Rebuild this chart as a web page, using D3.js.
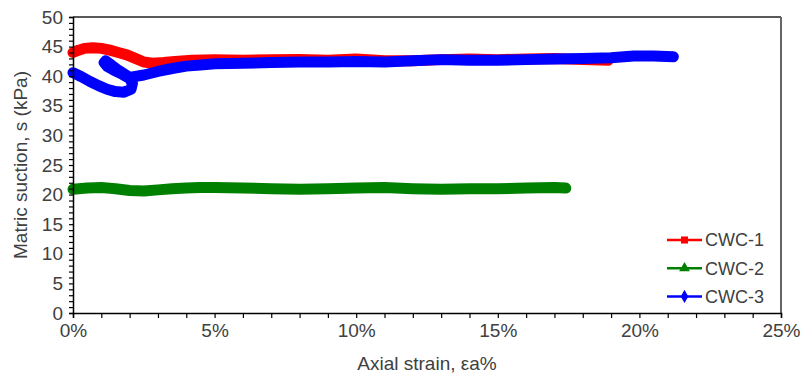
<!DOCTYPE html>
<html>
<head>
<meta charset="utf-8">
<script src="https://cdn.jsdelivr.net/npm/d3@7"></script>
<style>
  html, body { margin: 0; padding: 0; background: #fff; }
  svg { display: block; font-family: "Liberation Sans", Arial, sans-serif; }
</style>
</head>
<body>
<svg id="chart" width="805" height="377"></svg>
<script>
// Matric suction during shearing, three specimens
const seriesNames = ["CWC-1", "CWC-2", "CWC-3"];
const seriesColors = ["#ff0000", "#008000", "#0000ff"];

// CWC-1: axial strain (%) and matric suction (kPa)
const cwc1Strain  = [0, 0.2, 0.4, 0.7, 1.0, 1.3, 1.6, 1.9, 2.2, 2.5, 2.8, 3.2, 3.6, 4.2, 5, 6, 7, 8, 9, 10, 11, 12, 13, 14, 15, 16, 17, 18, 18.9];
const cwc1Suction = [44.0, 44.4, 44.7, 44.8, 44.7, 44.4, 44.0, 43.6, 43.0, 42.4, 42.2, 42.3, 42.5, 42.7, 42.8, 42.7, 42.8, 42.8, 42.7, 42.9, 42.6, 42.6, 42.8, 42.9, 42.8, 42.9, 43.0, 42.8, 42.7];

// CWC-2
const cwc2Strain  = [0, 0.5, 1, 1.5, 2, 2.5, 3, 3.5, 4, 4.5, 5, 6, 7, 8, 9, 10, 11, 12, 13, 14, 15, 16, 17, 17.4];
const cwc2Suction = [20.9, 21.1, 21.2, 21.0, 20.7, 20.6, 20.8, 21.0, 21.1, 21.2, 21.2, 21.1, 21.0, 20.9, 21.0, 21.1, 21.2, 21.0, 20.9, 21.0, 21.0, 21.1, 21.2, 21.1];

// CWC-3 (early loop, then the long plateau)
const cwc3Strain  = [0, 0.3, 0.6, 0.9, 1.2, 1.5, 1.8, 2.05, 2.1, 2.0, 1.75, 1.45, 1.2, 1.1, 1.15, 1.3, 1.6, 2.0, 2.5, 3, 3.5, 4, 4.5, 5, 6, 7, 8, 9, 10, 11, 12, 13, 14, 15, 16, 17, 18, 19, 19.8, 20.5, 21.2];
const cwc3Suction = [40.6, 39.9, 39.1, 38.4, 37.8, 37.4, 37.3, 37.8, 38.8, 39.6, 40.3, 41.0, 41.7, 42.3, 42.6, 42.1, 41.0, 39.8, 40.2, 40.8, 41.3, 41.7, 41.9, 42.1, 42.2, 42.3, 42.4, 42.4, 42.5, 42.4, 42.6, 42.8, 42.7, 42.7, 42.8, 42.9, 43.0, 43.1, 43.4, 43.4, 43.3];

const xTickValues = [0, 5, 10, 15, 20, 25];
const yTickValues = [0, 5, 10, 15, 20, 25, 30, 35, 40, 45, 50];

const series = [
  { name: seriesNames[0], color: seriesColors[0], xs: cwc1Strain, ys: cwc1Suction, marker: d3.symbolSquare },
  { name: seriesNames[1], color: seriesColors[1], xs: cwc2Strain, ys: cwc2Suction, marker: d3.symbolTriangle },
  { name: seriesNames[2], color: seriesColors[2], xs: cwc3Strain, ys: cwc3Suction, marker: d3.symbolDiamond }
];

const svg = d3.select("#chart");
const margin = { left: 73, right: 24, top: 17, bottom: 64 };
const W = 805, H = 377;
const x = d3.scaleLinear().domain([0, 25]).range([margin.left, W - margin.right]);
const y = d3.scaleLinear().domain([0, 50]).range([H - margin.bottom, margin.top]);

const textColor = "#404040";
const fontSize = 19;

// frame: top and right edges
svg.append("line").attr("x1", x(0)).attr("x2", x(25)).attr("y1", y(50)).attr("y2", y(50))
  .attr("stroke", "#222").attr("stroke-width", 1.5);
svg.append("line").attr("x1", x(25)).attr("x2", x(25)).attr("y1", y(50)).attr("y2", y(0))
  .attr("stroke", "#666").attr("stroke-width", 2);

// data bands
const line = d3.line().x(d => x(d[0])).y(d => y(d[1])).curve(d3.curveLinear);
series.forEach(s => {
  const pts = s.xs.map((v, i) => [v, s.ys[i]]);
  svg.append("path").datum(pts).attr("d", line)
    .attr("fill", "none").attr("stroke", s.color)
    .attr("stroke-width", 11).attr("stroke-linejoin", "round").attr("stroke-linecap", "round");
});

// x axis: minor ticks every 1%, labels every 5%
const xAxis = d3.axisBottom(x).tickValues(d3.range(0, 26, 1)).tickSize(5).tickFormat(d => xTickValues.includes(d) ? d + "%" : "");
const gx = svg.append("g").attr("transform", `translate(0,${y(0)})`).call(xAxis);
gx.select(".domain").attr("stroke", "#000").attr("stroke-width", 1.5);
gx.selectAll(".tick line").attr("stroke", "#000").attr("stroke-width", 1.2);
gx.selectAll(".tick text").attr("fill", textColor).attr("font-size", fontSize).attr("y", 9).attr("dy", "0.8em");

// y axis: minor ticks every 1 kPa, labels every 5
const yAxis = d3.axisLeft(y).tickValues(d3.range(0, 51, 1)).tickSize(4).tickFormat(d => yTickValues.includes(d) ? d : "");
const gy = svg.append("g").attr("transform", `translate(${x(0)},0)`).call(yAxis);
gy.select(".domain").attr("stroke", "#000").attr("stroke-width", 1.5);
gy.selectAll(".tick line").attr("stroke", "#000").attr("stroke-width", 1.2);
gy.selectAll(".tick text").attr("fill", textColor).attr("font-size", fontSize).attr("x", -10);

// axis titles
svg.append("text").attr("x", (x(0) + x(25)) / 2).attr("y", 370).attr("text-anchor", "middle")
  .attr("fill", textColor).attr("font-size", fontSize).text("Axial strain, εa%");
svg.append("text").attr("transform", `translate(27,${(y(0) + y(50)) / 2}) rotate(-90)`)
  .attr("text-anchor", "middle").attr("fill", textColor).attr("font-size", fontSize).text("Matric suction, s (kPa)");

// legend
const legend = svg.append("g");
series.forEach((s, i) => {
  const ly = 240 + i * 28.2;
  legend.append("line").attr("x1", 667).attr("x2", 702).attr("y1", ly).attr("y2", ly)
    .attr("stroke", s.color).attr("stroke-width", 2.5);
  legend.append("path").attr("d", d3.symbol().type(s.marker).size(50)())
    .attr("transform", `translate(684.5,${ly})`).attr("fill", s.color);
  legend.append("text").attr("x", 705).attr("y", ly).attr("dy", "0.35em")
    .attr("fill", textColor).attr("font-size", 18).text(s.name);
});
</script>
</body>
</html>
